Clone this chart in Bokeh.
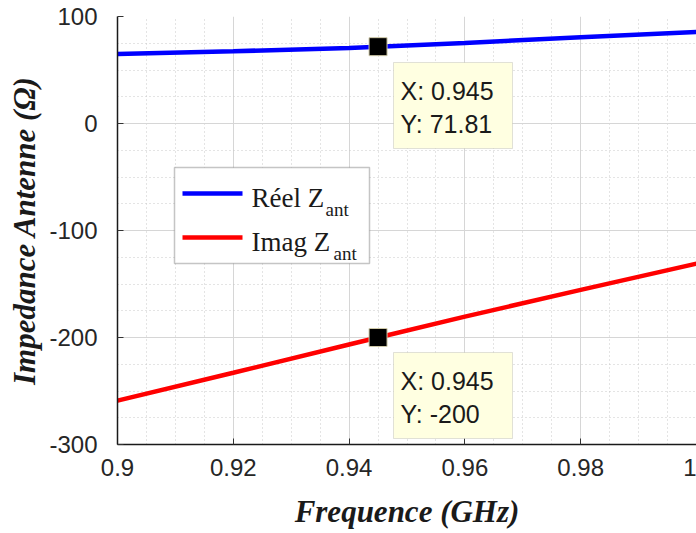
from bokeh.plotting import figure
from bokeh.models import (FixedTicker, Range1d, BoxAnnotation, Label)
from bokeh.embed import file_html
from bokeh.resources import INLINE

# ---- data ----
freq = [0.90, 0.92, 0.94, 0.945, 0.96, 0.98, 1.00]
re_z = [65.0, 67.5, 70.6, 71.81, 75.3, 80.6, 85.5]
im_z = [-259.0, -233.0, -206.5, -200.0, -180.5, -155.5, -131.0]

tip_x = [0.945, 0.945]
tip_y = [71.81, -200.0]
tip_texts = [("X: 0.945", "Y: 71.81"), ("X: 0.945", "Y: -200")]

x_ticks = [0.9, 0.92, 0.94, 0.96, 0.98, 1.0]
x_tick_labels = ["0.9", "0.92", "0.94", "0.96", "0.98", "1"]
y_ticks = [-300, -200, -100, 0, 100]
y_tick_labels = ["-300", "-200", "-100", "0", "100"]
x_minor = [round(0.9 + 0.005 * i, 3) for i in range(21)]
y_minor = [-300 + 25 * i for i in range(17)]

series_names = ["Réel Z", "Imag Z"]
series_sub = "ant"
series_colors = ["#0000FF", "#FF0000"]

# ---- layout ----
W, H = 696, 533
ML, MR, MT, MB = 117, 0, 16, 89
X0, X1 = 0.9, 1.0
Y0, Y1 = -300, 100
FW, FH = W - ML - MR, H - MT - MB
OX, OY = 0, 0  # observed offset of the canvas in the picture


def px2x(px):  # picture pixel -> data x
    return X0 + (px - OX - ML) / FW * (X1 - X0)


def py2y(py):  # picture pixel -> data y
    return Y1 - (py - OY - MT) / FH * (Y1 - Y0)


p = figure(width=W, height=H, output_backend="svg", toolbar_location=None,
           x_range=Range1d(X0, X1), y_range=Range1d(Y0, Y1),
           min_border_left=ML, min_border_right=MR, min_border_top=MT,
           min_border_bottom=MB)
p.outline_line_color = None
p.background_fill_color = "white"

p.xaxis.ticker = FixedTicker(ticks=x_ticks, minor_ticks=x_minor)
p.yaxis.ticker = FixedTicker(ticks=y_ticks, minor_ticks=y_minor)
p.xaxis.major_label_overrides = dict(zip(x_ticks, x_tick_labels))
p.yaxis.major_label_overrides = dict(zip(y_ticks, y_tick_labels))

for ax in (p.xaxis, p.yaxis):
    ax.axis_line_color = "#1a1a1a"
    ax.axis_line_width = 1.5
    ax.major_tick_in = 6
    ax.major_tick_out = 0
    ax.major_tick_line_color = "#333333"
    ax.minor_tick_line_color = None
    ax.major_label_text_font = "Liberation Sans"
    ax.major_label_text_color = "#262626"
    ax.major_label_text_font_size = "24px"
    ax.axis_label_text_font = "Liberation Serif"
    ax.axis_label_text_font_style = "bold italic"
    ax.axis_label_text_font_size = "31px"
    ax.axis_label_text_color = "#1a1a1a"

p.xaxis.axis_label = "Frequence (GHz)"
p.yaxis.axis_label = "Impedance Antenne (Ω)"
p.xaxis.major_label_standoff = 10
p.yaxis.major_label_standoff = 16
p.xaxis.axis_label_standoff = 15
p.yaxis.axis_label_standoff = 4

for g in (p.xgrid, p.ygrid):
    g.grid_line_color = "#d6d6d6"
    g.grid_line_width = 1
    g.minor_grid_line_color = "#c8c8c8"
    g.minor_grid_line_dash = "1 3"
    g.minor_grid_line_width = 1

# ---- series ----
p.line(freq, re_z, line_color=series_colors[0], line_width=4.5)
p.line(freq, im_z, line_color=series_colors[1], line_width=4.5)

# ---- data tips ----
p.scatter(tip_x, tip_y, marker="square", size=18, fill_color="black",
          line_color="#cfc9a8", line_width=1)

tip_boxes = [(393, 512, 62, 148), (393, 512, 352, 438)]
for (l, r, t, b), (t1, t2) in zip(tip_boxes, tip_texts):
    p.add_layout(BoxAnnotation(left=px2x(l), right=px2x(r), top=py2y(t), bottom=py2y(b),
                               fill_color="#FFFFE1", fill_alpha=1.0,
                               line_color="#9a9a9a", line_width=1, level="annotation"))
    for txt, cy in ((t1, t + 28), (t2, t + 61)):
        p.add_layout(Label(x=px2x(l + 7), y=py2y(cy), text=txt, text_font="Liberation Sans",
                           text_font_size="25px", text_color="#1a1a1a",
                           text_baseline="middle", text_align="left", level="overlay"))

# ---- legend (manual, for subscripts) ----
p.add_layout(BoxAnnotation(left=px2x(174), right=px2x(369), top=py2y(167), bottom=py2y(263),
                           fill_color="white", fill_alpha=1.0, line_color="#404040",
                           line_width=1.5, level="annotation"))
for i, (name, col) in enumerate(zip(series_names, series_colors)):
    yl = 193 + 44 * i
    p.segment(x0=[px2x(182)], x1=[px2x(242)], y0=[py2y(yl)], y1=[py2y(yl)],
              line_color=col, line_width=4.5, level="overlay")
    p.add_layout(Label(x=px2x(251), y=py2y(yl + 4), text=name, text_font="Liberation Serif",
                       text_font_size="27px", text_color="#1a1a1a",
                       text_baseline="alphabetic", text_align="left", level="overlay"))
    zx = 251 + (74 if i == 0 else 82)
    p.add_layout(Label(x=px2x(zx), y=py2y(yl + 16), text=series_sub, text_font="Liberation Serif",
                       text_font_size="19px", text_color="#1a1a1a",
                       text_baseline="alphabetic", text_align="left", level="overlay"))

open("out.html", "w").write(file_html(p, INLINE))
